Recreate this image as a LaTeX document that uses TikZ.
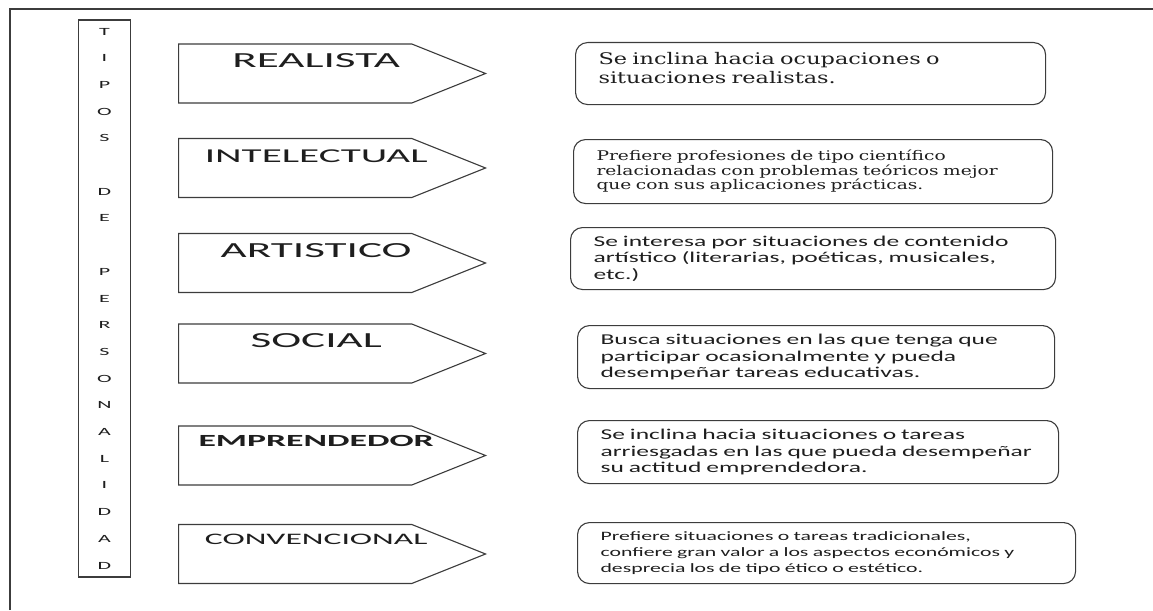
\documentclass[tikz,border=0pt]{standalone}
\usepackage{fontspec}
\setmainfont{Carlito}
\newfontfamily\capfont[FakeStretch=2.1]{Carlito}
\newfontfamily\sidefont[FakeStretch=2]{Carlito}
\newfontfamily\descsans[FakeStretch=1.7]{Carlito}
\newfontfamily\descserif[FakeStretch=1.4]{DejaVu Serif}
\usetikzlibrary{shapes.symbols, positioning}
\definecolor{lineColor}{RGB}{60,60,60}
\definecolor{textColor}{RGB}{30,30,30}
\newcommand{\typelabel}[1]{\makebox[0pt]{\hspace{42pt}#1}}
\tikzset{
    frameLine/.style={
        draw=lineColor,
        line width=1.2pt
    },
    sidebox/.style={
        rectangle,
        draw=lineColor,
        line width=1.2pt,
        minimum width=52pt,
        minimum height=557pt,
        inner sep=0pt,
        align=center,
        text=textColor,
        font=\sidefont\fontsize{11}{26.7}\selectfont
    },
    typenode/.style={
        signal,
        signal to=east,
        signal pointer angle=43.6,
        draw=lineColor,
        line width=1.1pt,
        minimum width=307pt,
        minimum height=59pt,
        inner sep=0pt,
        anchor=west,
        text=textColor,
        text height=10pt,
        text depth=22pt,
        font=\capfont\fontsize{21.5}{24}\selectfont
    },
    descbox/.style={
        rectangle,
        rounded corners=12pt,
        draw=lineColor,
        line width=1.1pt,
        anchor=north west,
        align=left,
        inner xsep=23pt,
        inner ysep=0pt,
        minimum height=62pt,
        text width=#1,
        text=textColor,
        font=\descsans\fontsize{15}{16.5}\selectfont
    }
}

\begin{document}
\begin{tikzpicture}[x=1pt, y=-1pt]
    \useasboundingbox (0,0) rectangle (1153,610);
    \draw[frameLine] (10,610) -- (10,9) -- (1153,9);

    % columna vertical
    \node[sidebox] (tipos) at (104.5,298.5)
        {T\\I\\P\\O\\S\\[26.7pt]D\\E\\[26.7pt]P\\E\\R\\S\\O\\N\\A\\L\\I\\D\\A\\D};

    % tipos
    \node[typenode] (realista) at (178,73.5) {\typelabel{REALISTA}};
    \node[typenode, font=\capfont\fontsize{19.6}{24}\selectfont] (intelectual) at (178,168) {\typelabel{INTELECTUAL}};
    \node[typenode] (artistico) at (178,263) {\typelabel{ARTISTICO}};
    \node[typenode] (social) at (178,353.5) {\typelabel{SOCIAL}};
    \node[typenode, text depth=29pt,
        font=\capfont\bfseries\fontsize{17}{20}\selectfont] (emprendedor) at (178,455.5) {\typelabel{EMPRENDEDOR}};
    \node[typenode, text depth=30pt,
        font=\capfont\fontsize{16}{19}\selectfont] (convencional) at (178,554) {\typelabel{CONVENCIONAL}};

    % descripciones
    \node[descbox=424pt, minimum height=62pt,
        font=\descserif\fontsize{16}{19}\selectfont] (dRealista) at (575,42)
        {Se inclina hacia ocupaciones o\\situaciones realistas.\par\vspace*{11pt}};
    \node[descbox=433pt, minimum height=64pt,
        font=\descserif\fontsize{13.3}{14.5}\selectfont] (dIntelectual) at (573,139)
        {Prefiere profesiones de tipo científico\\relacionadas con problemas teóricos mejor\\que con sus aplicaciones prácticas.};
    \node[descbox=439pt] (dArtistico) at (570,227)
        {Se interesa por situaciones de contenido\\artístico (literarias, poéticas, musicales,\\etc.)};
    \node[descbox=431pt, minimum height=63pt] (dSocial) at (577,325)
        {Busca situaciones en las que tenga que\\participar ocasionalmente y pueda\\desempeñar tareas educativas.};
    \node[descbox=435pt, minimum height=63pt] (dEmprendedor) at (577,420)
        {Se inclina hacia situaciones o tareas\\arriesgadas en las que pueda desempeñar\\su actitud emprendedora.};
    \node[descbox=452pt, minimum height=61pt,
        font=\descsans\fontsize{12.8}{16}\selectfont] (dConvencional) at (577,522)
        {Prefiere situaciones o tareas tradicionales,\\confiere gran valor a los aspectos económicos y\\desprecia los de tipo ético o estético.};
\end{tikzpicture}
\end{document}
